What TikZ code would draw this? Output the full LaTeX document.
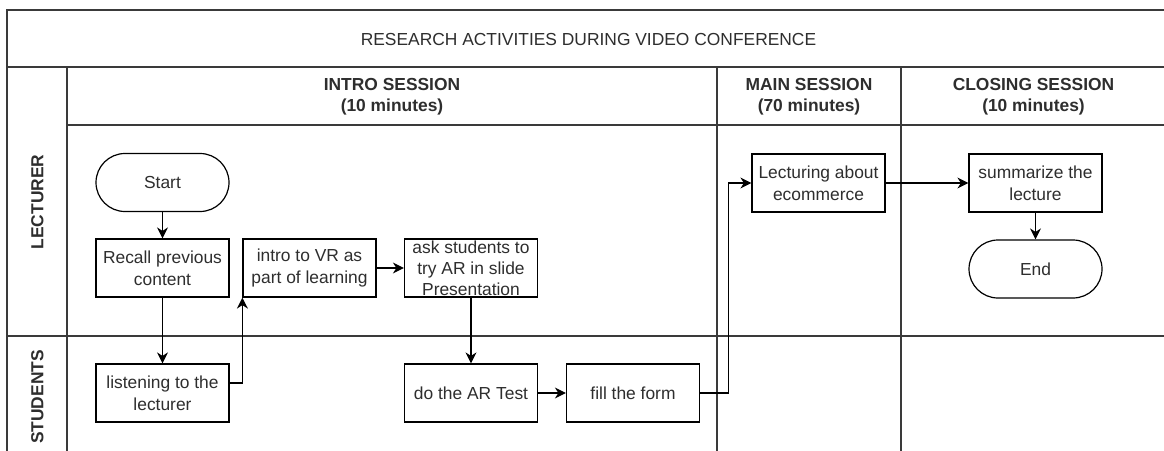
\documentclass[tikz,border=0pt]{standalone}
\usepackage{fontspec}
\setmainfont{Liberation Sans}
\usetikzlibrary{arrows.meta}
\definecolor{txt}{HTML}{2E2E2E}
\definecolor{lanecol}{HTML}{3A3A3A}
\begin{document}
\begin{tikzpicture}[x=1pt,y=-1pt,
  every node/.style={font=\fontsize{17.4}{21.6}\selectfont, text=txt},
  box/.style={draw=black, line width=1.2pt, minimum width=133pt, minimum height=58pt, inner sep=0pt, align=center, fill=white},
  term/.style={box, rounded corners=29pt},
  lane/.style={draw=lanecol, line width=1.4pt},
  arr/.style={draw=black, line width=1.2pt, -{Stealth[length=11pt,width=11pt,inset=3.5pt]}},
  hdr/.style={font=\fontsize{17.4}{21}\selectfont\bfseries, align=center},
]
\useasboundingbox (0,0) rectangle (1164,450);
\begin{scope}
\clip (0,0) rectangle (1164,450);
\fill[white] (0,0) rectangle (1164,450);
% pool frame
\draw[lane] (7,470) -- (7,10) -- (1175,10);
\draw[lane] (7,67) -- (1175,67);
\draw[lane] (67,67) -- (67,470);
\draw[lane] (67,125) -- (1175,125);
\draw[lane] (717,67) -- (717,470);
\draw[lane] (901,67) -- (901,470);
\draw[lane] (7,336) -- (1175,336);
\end{scope}

% titles
\node (title) at (588.5,39.5) {RESEARCH ACTIVITIES DURING VIDEO CONFERENCE};
\node[hdr] (hintro) at (392,97) {INTRO SESSION\\(10 minutes)};
\node[hdr] (hmain) at (809,97) {MAIN SESSION\\(70 minutes)};
\node[hdr] (hclose) at (1033.5,97) {CLOSING SESSION\\(10 minutes)};
\node[hdr, rotate=90] (llect) at (37.5,202) {LECTURER};
\node[hdr, rotate=90] (lstud) at (37.5,397) {STUDENTS};

% nodes
\node[term] (start) at (162.5,182.5) {Start};
\node[box] (recall) at (162.5,268) {Recall previous\\content};
\node[box] (introvr) at (309.5,268) {intro to VR as\\part of learning};
\node[box, font=\fontsize{17.4}{21}\selectfont] (ask) at (471,268) {ask students to\\try AR in slide\\Presentation};
\node[box] (listen) at (162.5,393) {listening to the\\lecturer};
\node[box] (doar) at (471,393) {do the AR Test};
\node[box] (fill) at (633,393) {fill the form};
\node[box] (lect) at (818.5,183) {Lecturing about\\ecommerce};
\node[box] (summ) at (1035.5,183) {summarize the\\lecture};
\node[term] (end) at (1035.5,269) {End};

% connectors
\draw[arr] (start) -- (recall);
\draw[arr] (recall) -- (listen);
\draw[arr] ([yshift=10pt]listen.east) -| (introvr.south west);
\draw[arr] (introvr) -- (ask);
\draw[arr] (ask) -- (doar);
\draw[arr] (doar) -- (fill);
\draw[arr] (fill.east) -- ([xshift=28pt]fill.east) |- (lect.west);
\draw[arr] (lect) -- (summ);
\draw[arr] (summ) -- (end);
\end{tikzpicture}
\end{document}
